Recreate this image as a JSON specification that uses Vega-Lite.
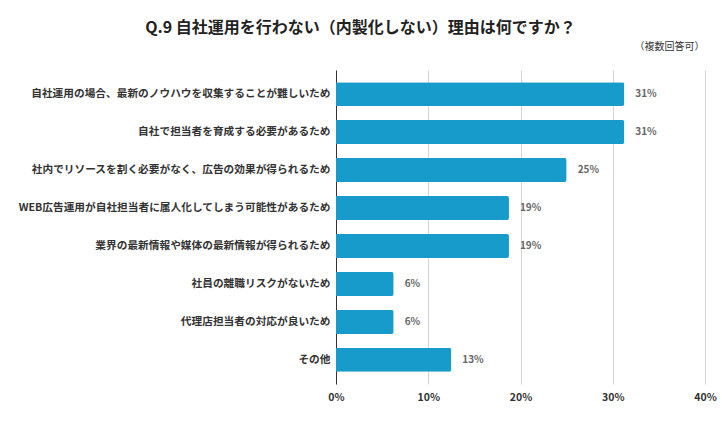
{
  "$schema": "https://vega.github.io/schema/vega-lite/v6.json",
  "width": 369,
  "height": 314,
  "autosize": {"type": "none"},
  "padding": {"left": 336, "top": 70, "right": 17, "bottom": 41},
  "background": "white",
  "config": {"font": "Noto Sans CJK JP", "view": {"stroke": null}},
  "title": {
    "text": "Q.9 自社運用を行わない（内製化しない）理由は何ですか？",
    "anchor": "middle",
    "frame": "group",
    "dx": -160,
    "offset": 5,
    "fontSize": 16,
    "fontWeight": "bold",
    "color": "#222222",
    "font": "Noto Sans CJK JP"
  },
  "data": {
    "values": [
      {"reason": "自社運用の場合、最新のノウハウを収集することが難しいため", "pct": 31.25, "label": "31%"},
      {"reason": "自社で担当者を育成する必要があるため", "pct": 31.25, "label": "31%"},
      {"reason": "社内でリソースを割く必要がなく、広告の効果が得られるため", "pct": 25, "label": "25%"},
      {"reason": "WEB広告運用が自社担当者に属人化してしまう可能性があるため", "pct": 18.75, "label": "19%"},
      {"reason": "業界の最新情報や媒体の最新情報が得られるため", "pct": 18.75, "label": "19%"},
      {"reason": "社員の離職リスクがないため", "pct": 6.25, "label": "6%"},
      {"reason": "代理店担当者の対応が良いため", "pct": 6.25, "label": "6%"},
      {"reason": "その他", "pct": 12.5, "label": "13%"}
    ]
  },
  "encoding": {
    "y": {
      "field": "reason",
      "type": "nominal",
      "sort": null,
      "scale": {"paddingInner": 0.37, "paddingOuter": 0.32},
      "axis": {
        "title": null,
        "ticks": false,
        "domain": true,
        "domainColor": "#333333",
        "domainWidth": 1,
        "labelPadding": 6,
        "labelFontSize": 10.7,
        "labelFontWeight": "bold",
        "labelColor": "#333333",
        "labelLimit": 340
      }
    }
  },
  "layer": [
    {
      "mark": {"type": "bar", "color": "#179bcb", "cornerRadiusEnd": 2},
      "encoding": {
        "x": {
          "field": "pct",
          "type": "quantitative",
          "scale": {"domain": [0, 40], "nice": false},
          "axis": {
            "title": null,
            "values": [0, 10, 20, 30, 40],
            "labelExpr": "datum.value + '%'",
            "labelFlush": false,
            "grid": true,
            "gridColor": "#d4d4d4",
            "gridWidth": 1,
            "domain": false,
            "ticks": false,
            "labelPadding": 8,
            "labelFontSize": 10.5,
            "labelFontWeight": "bold",
            "labelColor": "#333333"
          }
        }
      }
    },
    {
      "mark": {"type": "text", "align": "left", "baseline": "middle", "dx": 11, "color": "#666666", "fontWeight": "bold", "fontSize": 10},
      "encoding": {
        "x": {
          "field": "pct",
          "type": "quantitative",
          "axis": {
            "orient": "top",
            "labels": false,
            "ticks": false,
            "domain": false,
            "grid": false,
            "title": "（複数回答可）",
            "titleX": 368,
            "titleY": -24,
            "titleAlign": "right",
            "titleBaseline": "middle",
            "titleFontSize": 10,
            "titleFontWeight": "normal",
            "titleColor": "#333333"
          }
        },
        "text": {"field": "label"}
      }
    }
  ],
  "resolve": {"axis": {"x": "independent"}}
}
